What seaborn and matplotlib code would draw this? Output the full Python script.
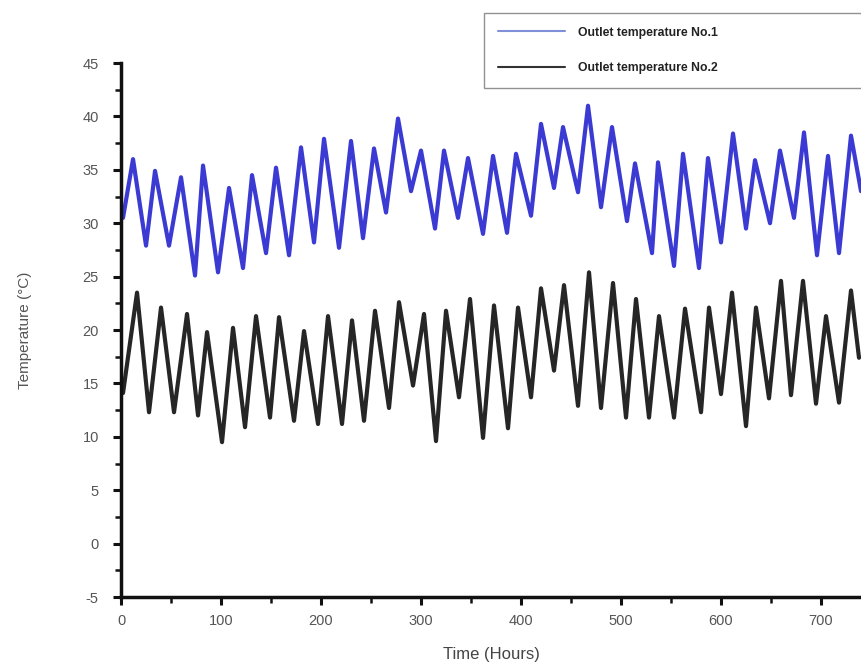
import matplotlib
matplotlib.use("Agg")
import matplotlib.pyplot as plt
import seaborn as sns
import pandas as pd
from matplotlib.ticker import MultipleLocator
from matplotlib.lines import Line2D

# Data (daily extrema of each series)
hours_no1 = [2, 12, 25, 34, 48, 60, 74, 82, 97, 108, 122, 131, 145, 155, 168, 180, 193, 203, 218, 230,
             242, 253, 265, 277, 290, 300, 314, 323, 337, 347, 362, 372, 386, 395, 410, 420, 433, 442,
             457, 467, 480, 491, 506, 514, 531, 537, 553, 562, 578, 587, 600, 612, 625, 634, 649, 659,
             673, 683, 696, 707, 718, 730, 740]
temp_no1 = [30.5, 36.0, 27.9, 34.9, 27.9, 34.3, 25.1, 35.4, 25.4, 33.3, 25.8, 34.5, 27.2, 35.2, 27.0,
            37.1, 28.2, 37.9, 27.7, 37.7, 28.6, 37.0, 31.0, 39.8, 33.0, 36.8, 29.5, 36.8, 30.5, 36.1,
            29.0, 36.3, 29.1, 36.5, 30.7, 39.3, 33.3, 39.0, 32.9, 41.0, 31.5, 39.0, 30.2, 35.6, 27.2,
            35.7, 26.0, 36.5, 25.8, 36.1, 28.2, 38.4, 29.5, 35.9, 30.0, 36.8, 30.5, 38.5, 27.0, 36.3,
            27.2, 38.2, 33.0]

hours_no2 = [2, 16, 28, 40, 53, 66, 77, 86, 101, 112, 124, 135, 149, 158, 173, 183, 197, 207, 221, 231,
             243, 254, 268, 278, 292, 303, 315, 325, 338, 349, 362, 373, 387, 397, 410, 420, 433, 443,
             457, 468, 480, 492, 505, 515, 528, 538, 553, 564, 580, 588, 600, 611, 625, 635, 648, 660,
             670, 682, 695, 705, 718, 730, 738]
temp_no2 = [14.1, 23.5, 12.3, 22.1, 12.3, 21.5, 12.0, 19.8, 9.5, 20.2, 10.9, 21.3, 11.8, 21.2, 11.5,
            19.9, 11.2, 21.3, 11.2, 20.9, 11.5, 21.8, 12.7, 22.6, 14.8, 21.5, 9.6, 21.8, 13.7, 22.9,
            9.9, 22.3, 10.8, 22.1, 13.7, 23.9, 16.2, 24.2, 12.9, 25.4, 12.7, 24.4, 11.8, 22.9, 11.8,
            21.3, 11.8, 22.0, 12.3, 22.1, 14.0, 23.5, 11.0, 22.1, 13.6, 24.6, 13.9, 24.6, 13.1, 21.3,
            13.2, 23.7, 17.4]

labels = ["Outlet temperature No.1", "Outlet temperature No.2"]
colors = ["#3b3bd4", "#262626"]

df = pd.concat([
    pd.DataFrame({"Time": hours_no1, "Temp": temp_no1, "Series": labels[0]}),
    pd.DataFrame({"Time": hours_no2, "Temp": temp_no2, "Series": labels[1]}),
])

sns.set_theme(style="white")
plt.rcParams["font.family"] = ["Liberation Sans", "DejaVu Sans"]
plt.rcParams["axes.unicode_minus"] = False

fig = plt.figure(figsize=(8.62, 6.64), dpi=100)
ax = fig.add_axes([0.1404, 0.1009, 0.8596, 0.8042])

sns.lineplot(data=df, x="Time", y="Temp", hue="Series", palette=colors,
             linewidth=3.0, sort=False, estimator=None, ax=ax, legend=False)

ax.set_xlim(0, 741)
ax.set_ylim(-5, 45)
ax.xaxis.set_major_locator(MultipleLocator(100))
ax.xaxis.set_minor_locator(MultipleLocator(50))
ax.yaxis.set_major_locator(MultipleLocator(5))
ax.yaxis.set_minor_locator(MultipleLocator(2.5))

for s in ["top", "right"]:
    ax.spines[s].set_visible(False)
for s in ["left", "bottom"]:
    ax.spines[s].set_linewidth(2.5)
    ax.spines[s].set_color("#111111")

ax.tick_params(axis="both", which="major", direction="out", length=6, width=2.2,
               color="#111111", labelsize=10.5, labelcolor="#555555", pad=6,
               bottom=True, left=True)
ax.tick_params(axis="y", which="major", pad=10)
ax.tick_params(axis="both", which="minor", direction="out", length=4, width=1.8,
               color="#111111", bottom=True, left=True)

ax.set_xlabel("Time (Hours)", fontsize=12, color="#444444", labelpad=14)
ax.set_ylabel("Temperature (°C)", fontsize=11, color="#555555", labelpad=36)

handles = [Line2D([], [], color="#7f8fd8", lw=1.5), Line2D([], [], color="#333333", lw=1.5)]
leg = fig.legend(handles, labels, loc="lower left",
                 bbox_to_anchor=(484 / 862, 1 - 88 / 664, 378 / 862, 74 / 664),
                 bbox_transform=fig.transFigure, mode="expand", frameon=True, fancybox=False,
                 prop={"size": 8.8, "weight": "bold"}, handlelength=5.5, handletextpad=1.0,
                 labelspacing=1.9, borderpad=1.15, borderaxespad=0)
leg.get_frame().set_edgecolor("#777777")
leg.get_frame().set_linewidth(1.0)
for t in leg.get_texts():
    t.set_color("#222222")

fig.savefig("out.png", dpi=100, facecolor="white")
